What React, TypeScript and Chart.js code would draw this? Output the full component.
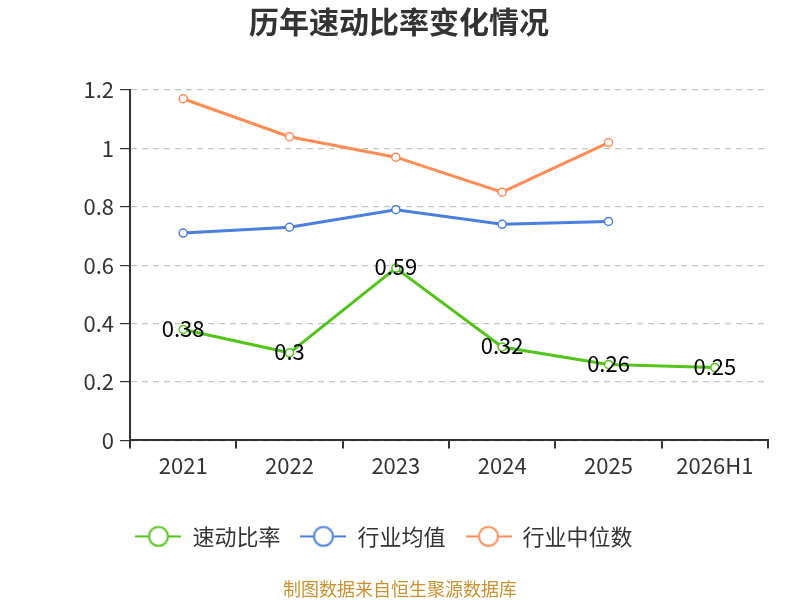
import React, { useEffect, useRef } from 'react';
import { Chart, registerables } from 'chart.js';

Chart.register(...registerables);

const years = ['2021', '2022', '2023', '2024', '2025', '2026H1'];
const quickRatio = [0.38, 0.3, 0.59, 0.32, 0.26, 0.25];
const industryAvg = [0.71, 0.73, 0.79, 0.74, 0.75, null];
const industryMedian = [1.17, 1.04, 0.97, 0.85, 1.02, null];

const GREEN = '#52c41a';
const BLUE = '#4a7fe0';
const ORANGE = '#ff8c55';
const FONT = '"Noto Sans CJK SC", "Noto Sans", sans-serif';
const SOURCE = '制图数据来自恒生聚源数据库';

// legend icon: short line with a hollow circle
function legendIcon(color: string) {
  const c = document.createElement('canvas');
  c.width = 46;
  c.height = 24;
  const g = c.getContext('2d')!;
  g.strokeStyle = color;
  g.lineWidth = 2;
  g.beginPath();
  g.moveTo(0, 12);
  g.lineTo(46, 12);
  g.stroke();
  g.beginPath();
  g.arc(23, 12, 9.5, 0, Math.PI * 2);
  g.fillStyle = '#fff';
  g.fill();
  g.stroke();
  return c;
}

// title and source line centred on the whole canvas
const centerTexts = {
  id: 'centerTexts',
  afterDraw(chart: Chart) {
    const { ctx } = chart;
    ctx.save();
    ctx.textAlign = 'center';
    ctx.textBaseline = 'middle';
    ctx.font = `bold 30px ${FONT}`;
    ctx.fillStyle = '#333';
    ctx.fillText('历年速动比率变化情况', chart.width / 2 - 1, 22);
    ctx.font = `18px ${FONT}`;
    ctx.fillStyle = '#c9922e';
    ctx.fillText(SOURCE, chart.width / 2, 589);
    ctx.restore();
  },
};

// values on the green line
const valueLabels = {
  id: 'valueLabels',
  afterDatasetsDraw(chart: Chart) {
    const { ctx } = chart;
    const meta = chart.getDatasetMeta(0);
    ctx.save();
    ctx.font = `22px ${FONT}`;
    ctx.fillStyle = '#000';
    ctx.textAlign = 'center';
    ctx.textBaseline = 'middle';
    meta.data.forEach((pt, i) => {
      ctx.fillText(String(quickRatio[i]), pt.x, pt.y - 1);
    });
    ctx.restore();
  },
};

export default function App() {
  const chartRef = useRef<HTMLCanvasElement>(null);

  useEffect(() => {
    document.body.style.margin = '0';
    if (!chartRef.current) return;
    const ctx = chartRef.current.getContext('2d');
    if (!ctx) return;

    const ds = (label: string, data: (number | null)[], color: string) => ({
      label,
      data,
      borderColor: color,
      backgroundColor: '#fff',
      borderWidth: 3,
      pointRadius: 4,
      pointBorderWidth: 1.5,
      pointBackgroundColor: '#fff',
      pointBorderColor: color,
      tension: 0,
    });

    const chart = new Chart(ctx, {
      type: 'line',
      data: {
        labels: years,
        datasets: [
          ds('速动比率', quickRatio, GREEN),
          ds('行业均值', industryAvg, BLUE),
          ds('行业中位数', industryMedian, ORANGE),
        ],
      },
      options: {
        animation: false,
        responsive: false,
        layout: { padding: { left: 0, right: 32, top: 90, bottom: 0 } },
        plugins: {
          title: { display: false },
          legend: {
            position: 'bottom',
            labels: {
              usePointStyle: true,
              pointStyleWidth: 46,
              color: '#333',
              font: { family: FONT, size: 22 },
              padding: 20,
              generateLabels: (c: Chart) =>
                c.data.datasets.map((d: any, i: number) => ({
                  text: d.label,
                  pointStyle: legendIcon(d.borderColor),
                  fontColor: '#333',
                  datasetIndex: i,
                  lineWidth: 0,
                  strokeStyle: 'transparent',
                  fillStyle: 'transparent',
                })),
            },
          },
          // reserves the space; the text itself is drawn by centerTexts
          subtitle: {
            display: true,
            position: 'bottom',
            text: SOURCE,
            color: 'rgba(0,0,0,0)',
            font: { family: FONT, size: 18 },
            padding: { top: 21, bottom: 0 },
          },
          tooltip: { enabled: false },
        },
        scales: {
          x: {
            offset: true,
            afterFit: (s: any) => {
              s.height = 65;
            },
            grid: {
              offset: true,
              drawOnChartArea: false,
              drawTicks: true,
              tickLength: 8,
              tickColor: '#333',
              lineWidth: 2,
            },
            border: { color: '#333', width: 2 },
            ticks: { color: '#333', font: { family: FONT, size: 22 }, padding: 4 },
          },
          y: {
            min: 0,
            max: 1.2,
            afterFit: (s: any) => {
              s.width = 130;
            },
            ticks: {
              stepSize: 0.2,
              color: '#333',
              font: { family: FONT, size: 22 },
              padding: 6,
              callback: (v: any) => String(Math.round(Number(v) * 10) / 10),
            },
            grid: {
              color: '#c4c4c4',
              lineWidth: 1.2,
              tickColor: '#333',
              tickLength: 10,
              tickBorderDash: [],
            },
            border: { color: '#333', width: 2, dash: [6, 5] },
          },
        },
      },
      plugins: [valueLabels, centerTexts],
    });

    return () => chart.destroy();
  }, []);

  return (
    <div style={{ width: 800, height: 600 }}>
      <canvas ref={chartRef} width={800} height={600} />
    </div>
  );
}
